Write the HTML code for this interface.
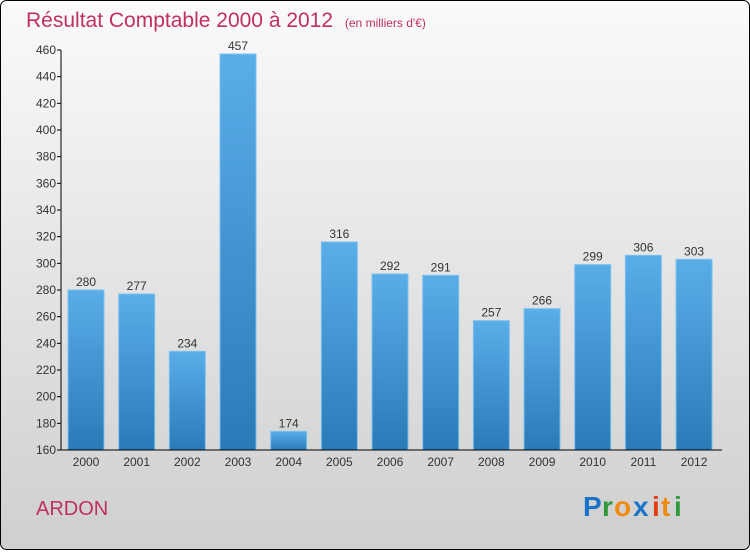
<!DOCTYPE html>
<html><head><meta charset="utf-8"><style>
body{margin:0;width:750px;height:550px;overflow:hidden;font-family:"Liberation Sans",sans-serif}
</style></head><body>
<svg width="750" height="550" xmlns="http://www.w3.org/2000/svg">
<defs>
<linearGradient id="bg" x1="0" y1="0" x2="0" y2="1"><stop offset="0" stop-color="#fafafa"/><stop offset="1" stop-color="#cfcfcf"/></linearGradient>
<linearGradient id="bar" x1="0" y1="0" x2="0" y2="1"><stop offset="0" stop-color="#5aaee8"/><stop offset="1" stop-color="#2a7ab8"/></linearGradient>
</defs>
<rect x="0.5" y="0.5" width="749" height="549" rx="6" fill="url(#bg)" stroke="#000"/>
<text x="26" y="27" font-size="21" fill="#c0305e">Résultat Comptable 2000 à 2012 <tspan font-size="12" dx="6">(en milliers d'€)</tspan></text>
<g id="plot"></g>
<text x="36" y="515" font-size="20" fill="#c0305e">ARDON</text>
<g font-size="28" font-weight="bold">
<text x="583" y="516" fill="#1a73c8">P</text><text x="602" y="516" fill="#2e9a3a">r</text><text x="614" y="516" fill="#f08a10">o</text><text x="633" y="516" fill="#1a73c8">x</text><text x="652" y="516" fill="#e83a10">i</text><text x="661" y="516" fill="#f08a10">t</text><text x="674" y="516" fill="#2e9a3a">i</text>
</g>
</svg>
<script>
const years=["2000","2001","2002","2003","2004","2005","2006","2007","2008","2009","2010","2011","2012"];
const values=[280,277,234,457,174,316,292,291,257,266,299,306,303];
const yTicks=[160,180,200,220,240,260,280,300,320,340,360,380,400,420,440,460];
const NS="http://www.w3.org/2000/svg";
const g=document.getElementById('plot');
const y0=450,x0=61,step=50.67,bw=36,yMin=160,yMax=460;
const y=v=>y0-(v-yMin)*(400/(yMax-yMin));
const xc=i=>86+i*step;
function mk(t,a){const e=document.createElementNS(NS,t);for(const k in a)e.setAttribute(k,a[k]);g.appendChild(e);return e;}
values.forEach((v,i)=>{
const r=mk('rect',{x:xc(i)-bw/2,y:y(v),width:bw,height:y0-y(v),fill:'url(#bar)',stroke:'#7cc0f0','stroke-width':1});


const t=mk('text',{x:xc(i),y:y(v)-4,'text-anchor':'middle','font-size':12,fill:'#333'});t.textContent=v;


const xl=mk('text',{x:xc(i),y:466,'text-anchor':'middle','font-size':12,fill:'#333'});xl.textContent=years[i];


});
yTicks.forEach(v=>{
mk('line',{x1:x0-4,x2:x0,y1:y(v),y2:y(v),stroke:'#000'});
const t=mk('text',{x:x0-5,y:y(v)+4,'text-anchor':'end','font-size':12,fill:'#333'});t.textContent=v;


});
const ya=mk('line',{x1:x0,x2:x0,y1:y(yMax),y2:y0,stroke:'#000'});


const xa=mk('line',{x1:x0,x2:722,y1:y0,y2:y0,stroke:'#000'});


</script>
</body></html>
